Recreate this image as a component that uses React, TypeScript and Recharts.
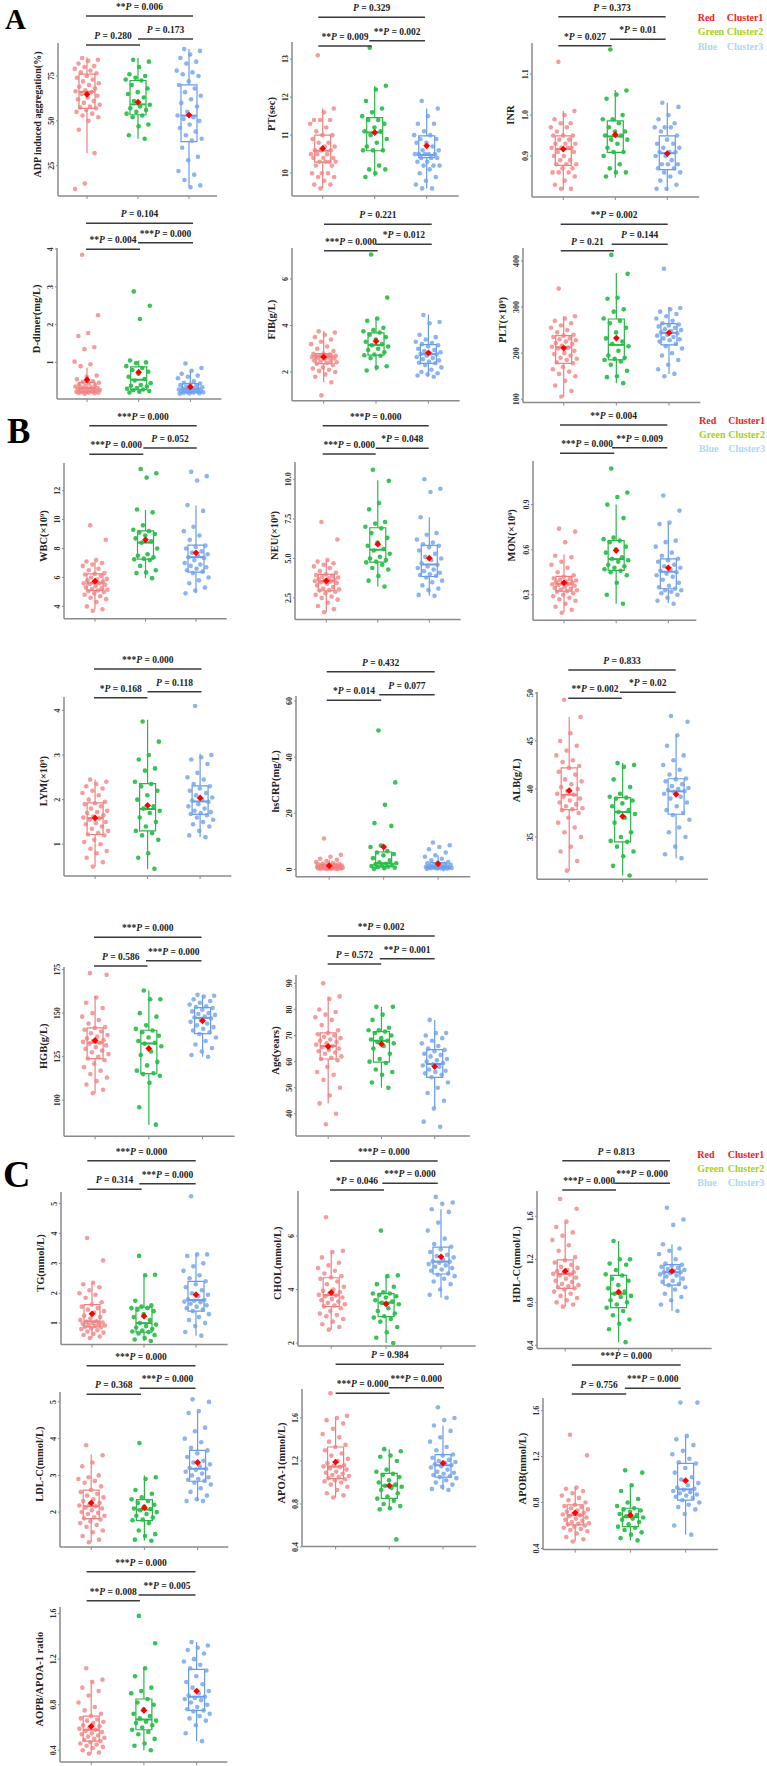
import React from 'react';
import { ScatterChart, Scatter, XAxis, YAxis, ReferenceArea, ReferenceLine } from 'recharts';

const SERIF = '"Liberation Serif","Times New Roman",Times,serif';
const AXIS = '#8a8a8a';
const PT_COL = ['rgba(242,128,128,0.78)', 'rgba(38,190,70,0.92)', 'rgba(108,160,236,0.78)'];
const BOX_COL = ['#ef8080', '#2fb44c', '#6a9be6'];

// ---------- data (stats: [lowWhisker, q1, median, q3, highWhisker, mean]) ----------
const adpRed = [85,84,83.5,82,80.5,80,79,78,77,76.5,75,74,73,72,71,70,69,68,67,66.5,66,65,64,63,62,61,60,59,58,57.5,57,56,55,54,53,52,50,45,32,15,12];
const adpGreen = [84,83,80,76,75,74,73,72.5,70,68,66,65,63,61,59,58,57,56,55,54,53,52,48,47,42,40];
const adpBlue = [90,89,87,85,83,82,78,77,76,75,72,70,68,66,64,62,60,58,55,53,52,51,50,48,46,44,42,40,39,35,30,28,22,20,17,14,13];
const adpStats = [[32,57,66.2,76.1,85.4,64.8],[40,53.4,59.2,72.5,85,60.4],[13.2,38.4,52.9,70,90,53.2]];
const adpP = ['**P = 0.006','P = 0.280','P = 0.173'];
const adpTicks = [25,50,75];

const ptRed = [13.1,11.7,11.6,11.4,11.4,11.4,11.3,11.2,11.1,11.0,11.0,10.9,10.8,10.8,10.7,10.7,10.6,10.6,10.6,10.5,10.5,10.5,10.4,10.4,10.4,10.3,10.3,10.3,10.3,10.2,10.2,10.0,10.0,10.0,9.9,9.9,9.8,9.7,9.7,9.6];
const ptGreen = [13.3,12.3,12.2,11.9,11.7,11.6,11.5,11.4,11.4,11.3,11.2,11.1,11.1,11.0,10.9,10.8,10.7,10.6,10.6,10.6,10.2,10.1,10.1,10.0,9.9];
const ptBlue = [11.9,11.7,11.5,11.3,11.3,11.1,11.0,11.0,10.9,10.9,10.8,10.8,10.7,10.6,10.6,10.5,10.5,10.5,10.5,10.5,10.4,10.4,10.4,10.3,10.3,10.2,10.2,10.2,10.1,10.0,9.9,9.8,9.7,9.6,9.6];
const ptStats = [[9.61,10.29,10.59,11.0,11.71,10.65],[9.91,10.59,11.07,11.46,12.29,11.07],[9.6,10.41,10.48,10.98,11.7,10.72]];
const ptP = ['P = 0.329','**P = 0.009','**P = 0.002'];
const ptTicks = [10,11,12,13];

const inrRed = [1.13,1.01,1.0,0.99,0.98,0.98,0.97,0.97,0.96,0.95,0.95,0.95,0.94,0.94,0.93,0.93,0.93,0.92,0.92,0.92,0.92,0.91,0.91,0.90,0.90,0.89,0.89,0.88,0.88,0.88,0.87,0.87,0.86,0.86,0.86,0.85,0.84,0.83,0.82,0.82];
const inrGreen = [1.16,1.06,1.05,1.04,1.0,0.99,0.99,0.98,0.97,0.96,0.96,0.95,0.95,0.94,0.94,0.93,0.92,0.91,0.91,0.90,0.88,0.87,0.86,0.86,0.85];
const inrBlue = [1.03,1.02,1.0,0.99,0.98,0.97,0.97,0.97,0.96,0.95,0.94,0.93,0.93,0.92,0.92,0.91,0.91,0.91,0.90,0.90,0.89,0.88,0.88,0.88,0.87,0.87,0.86,0.86,0.85,0.84,0.83,0.82,0.82];
const inrStats = [[0.817,0.877,0.917,0.949,1.01,0.917],[0.847,0.909,0.948,0.986,1.061,0.952],[0.815,0.867,0.907,0.949,1.03,0.906]];
const inrP = ['P = 0.373','*P = 0.027','*P = 0.01'];
const inrTicks = [0.9,1.0,1.1];

const ddRed = [3.85,2.25,1.78,1.7,1.4,1.35,1.02,0.95,0.9,0.65,0.62,0.55,0.5,0.48,0.46,0.44,0.42,0.40,0.38,0.36,0.34,0.33,0.32,0.31,0.30,0.29,0.28,0.27,0.26,0.25,0.24,0.23,0.22,0.22,0.21,0.20,0.20,0.19,0.18,0.17];
const ddGreen = [2.88,2.5,2.15,1.05,1.0,0.98,0.9,0.85,0.8,0.75,0.7,0.62,0.56,0.52,0.45,0.4,0.38,0.36,0.32,0.3,0.28,0.26,0.24,0.22,0.2];
const ddBlue = [0.97,0.85,0.78,0.7,0.65,0.62,0.58,0.5,0.46,0.44,0.42,0.40,0.38,0.36,0.34,0.32,0.31,0.30,0.29,0.28,0.27,0.26,0.25,0.24,0.23,0.22,0.21,0.21,0.20,0.19,0.18,0.18,0.17];
const ddStats = [[0.17,0.21,0.32,0.47,0.86,0.54],[0.2,0.28,0.54,0.88,1.05,0.74],[0.17,0.21,0.30,0.44,0.78,0.35]];
const ddP = ['P = 0.104','**P = 0.004','***P = 0.000'];
const ddTicks = [1,2,3,4];

const fibRed = [3.75,3.7,3.6,3.5,3.4,3.3,3.2,3.1,3.0,2.9,2.8,2.78,2.75,2.72,2.7,2.7,2.68,2.67,2.66,2.65,2.64,2.6,2.58,2.55,2.5,2.48,2.45,2.42,2.4,2.36,2.3,2.2,2.15,2.1,2.05,2.0,1.9,1.8,1.56,1.0];
const fibGreen = [7.05,5.2,4.3,4.2,3.9,3.8,3.75,3.7,3.6,3.5,3.4,3.3,3.2,3.15,3.1,3.0,2.95,2.85,2.75,2.72,2.7,2.6,2.25,2.2,2.07];
const fibBlue = [4.45,4.15,4.1,3.6,3.5,3.4,3.3,3.25,3.2,3.15,3.1,3.0,2.95,2.9,2.85,2.8,2.78,2.76,2.7,2.65,2.6,2.55,2.5,2.45,2.4,2.38,2.3,2.2,2.1,2.0,1.95,1.9,1.85,1.8];
const fibStats = [[1.56,2.36,2.66,2.79,3.75,2.65],[2.07,2.73,3.16,3.68,4.32,3.32],[1.81,2.37,2.77,3.18,4.47,2.82]];
const fibP = ['P = 0.221','***P = 0.000','*P = 0.012'];
const fibTicks = [2,4,6];

const pltRed = [340,280,275,270,265,260,255,250,245,240,238,235,232,230,228,225,222,220,216,214,212,210,205,200,198,195,190,188,185,180,178,170,165,160,155,150,140,130,118,106];
const pltGreen = [413,372,320,318,295,290,275,270,265,255,245,232,225,220,215,205,195,190,188,185,182,175,162,150,148,135];
const pltBlue = [383,298,295,290,285,280,275,270,265,262,260,258,255,252,250,248,245,243,240,238,235,232,230,228,225,220,215,210,200,195,185,175,165,155,150];
const pltStats = [[106,178,213,238,280,211],[135,185.5,218,274,374,232.6],[155,218,244,264,300,244]];
const pltP = ['**P = 0.002','P = 0.21','P = 0.144'];
const pltTicks = [100,200,300,400];

const wbcRed = [9.6,8.6,7.2,7.1,7.0,6.9,6.8,6.6,6.5,6.3,6.25,6.2,6.1,6.0,5.9,5.85,5.8,5.7,5.65,5.6,5.6,5.55,5.5,5.4,5.3,5.25,5.2,5.15,5.1,5.05,5.0,4.9,4.8,4.7,4.6,4.5,4.3,4.0,3.8,3.7];
const wbcGreen = [13.5,13.2,12.9,10.7,10.5,9.6,9.3,9.2,9.1,9.0,8.9,8.7,8.5,8.4,8.0,7.6,7.5,7.4,7.3,7.25,7.2,6.8,6.5,6.35,6.3,5.95];
const wbcBlue = [13.3,13.0,12.7,11.0,10.6,9.5,9.2,8.9,8.6,8.2,8.1,8.0,7.8,7.7,7.6,7.5,7.4,7.35,7.2,7.0,6.9,6.8,6.7,6.6,6.5,6.4,6.3,6.0,5.8,5.6,5.3,5.1,4.9];
const wbcStats = [[3.78,5.10,5.63,6.25,7.1,5.74],[5.95,7.26,8.41,9.22,10.67,8.6],[4.9,6.37,7.4,8.23,10.97,7.7]];
const wbcP = ['***P = 0.000','***P = 0.000','P = 0.052'];
const wbcTicks = [4,6,8,10,12];

const neuRed = [7.3,6.2,4.9,4.8,4.7,4.6,4.5,4.4,4.2,4.1,4.0,3.95,3.9,3.85,3.8,3.75,3.7,3.65,3.6,3.58,3.55,3.5,3.45,3.4,3.3,3.2,3.1,3.05,3.0,2.98,2.9,2.8,2.7,2.6,2.5,2.4,2.2,2.0,1.8,1.6];
const neuGreen = [10.6,9.9,8.5,8.1,7.3,7.2,7.0,6.9,6.6,6.3,6.0,5.8,5.6,5.5,5.3,5.1,5.0,4.9,4.8,4.75,4.6,4.4,4.3,3.9,3.6,3.23];
const neuBlue = [10.0,9.4,9.2,7.6,6.6,6.5,6.2,6.0,5.9,5.8,5.7,5.5,5.3,5.1,5.0,4.9,4.7,4.6,4.5,4.4,4.3,4.2,4.1,4.0,3.95,3.9,3.8,3.6,3.5,3.3,3.1,3.0,2.7,2.64];
const neuStats = [[1.61,2.96,3.57,3.99,4.87,3.59],[3.23,4.77,5.55,6.94,9.93,5.9],[2.64,3.86,4.62,5.82,7.6,5.02]];
const neuP = ['***P = 0.000','***P = 0.000','*P = 0.048'];
const neuTicks = [2.5,5,7.5,10];

const monRed = [0.74,0.72,0.65,0.56,0.55,0.52,0.5,0.48,0.45,0.43,0.42,0.41,0.405,0.40,0.395,0.39,0.385,0.38,0.375,0.37,0.37,0.365,0.36,0.35,0.345,0.34,0.335,0.33,0.325,0.32,0.31,0.3,0.29,0.28,0.27,0.26,0.24,0.22,0.2,0.18];
const monGreen = [1.14,0.98,0.95,0.9,0.81,0.68,0.67,0.66,0.65,0.62,0.6,0.58,0.55,0.54,0.53,0.52,0.5,0.49,0.48,0.47,0.46,0.45,0.43,0.38,0.3,0.24];
const monBlue = [0.96,0.86,0.78,0.77,0.66,0.65,0.62,0.58,0.56,0.54,0.53,0.52,0.5,0.49,0.48,0.47,0.46,0.45,0.44,0.43,0.42,0.40,0.38,0.36,0.35,0.34,0.33,0.33,0.32,0.31,0.3,0.28,0.26,0.24];
const monStats = [[0.185,0.324,0.373,0.422,0.568,0.38],[0.24,0.462,0.537,0.66,0.90,0.594],[0.245,0.34,0.453,0.539,0.776,0.479]];
const monP = ['**P = 0.004','***P = 0.000','**P = 0.009'];
const monTicks = [0.3,0.6,0.9];

const lymRed = [2.45,2.4,2.35,2.3,2.25,2.2,2.15,2.1,2.0,1.95,1.92,1.9,1.85,1.8,1.75,1.72,1.7,1.65,1.62,1.6,1.58,1.55,1.5,1.48,1.45,1.4,1.35,1.3,1.25,1.22,1.2,1.1,1.05,1.0,0.9,0.85,0.8,0.7,0.6,0.5];
const lymGreen = [3.75,3.3,3.0,2.9,2.7,2.65,2.4,2.35,2.3,2.2,2.1,2.0,1.85,1.8,1.75,1.7,1.6,1.5,1.4,1.3,1.25,1.2,1.1,0.8,0.7,0.45];
const lymBlue = [4.1,3.0,2.95,2.9,2.8,2.6,2.5,2.45,2.35,2.3,2.25,2.2,2.15,2.1,2.05,2.0,1.98,1.95,1.9,1.85,1.8,1.75,1.72,1.7,1.68,1.65,1.6,1.55,1.5,1.45,1.4,1.3,1.2,1.16];
const lymStats = [[0.5,1.22,1.59,1.93,2.45,1.59],[0.45,1.30,1.79,2.36,3.79,1.87],[1.16,1.67,1.96,2.31,3.03,2.04]];
const lymP = ['***P = 0.000','*P = 0.168','P = 0.118'];
const lymTicks = [1,2,3,4];

const crpRed = [11,5.2,4.5,3.8,3.4,3.0,2.6,2.3,2.0,1.9,1.8,1.7,1.6,1.5,1.4,1.3,1.2,1.1,1.05,1.0,0.95,0.9,0.85,0.8,0.75,0.7,0.65,0.6,0.55,0.5,0.48,0.45,0.4,0.35,0.3,0.3,0.25,0.2,0.15,0.1];
const crpGreen = [49.5,31,23,16.5,15.5,8.5,8.0,6.5,6.0,5.5,5.0,4.0,3.2,2.5,2.2,2.0,1.8,1.6,1.4,1.2,1.0,0.8,0.6,0.4,0.2];
const crpBlue = [9.6,8.6,8.0,7.2,6.0,5.0,4.5,3.8,3.2,2.6,2.4,2.2,2.0,1.8,1.6,1.4,1.2,1.1,1.0,0.9,0.85,0.8,0.75,0.7,0.65,0.6,0.55,0.5,0.45,0.4,0.35,0.3,0.2,0.1];
const crpStats = [[0.1,0.5,0.9,1.8,3.4,1.3],[0.2,1.0,2.2,6.2,8.5,8.0],[0.1,0.5,1.0,2.4,5.0,2.0]];
const crpP = ['P = 0.432','*P = 0.014','P = 0.077'];
const crpTicks = [0,20,40,60];

const albRed = [49.3,47.5,45.8,45,44.5,44,43.5,43,42.8,42.4,42.2,41.8,41.5,41,40.8,40.5,40.2,40,39.8,39.5,39.4,39.2,39,38.8,38.6,38.4,38.2,38,37.9,37.8,37.5,37,36.5,36,35.5,35,34,33.5,32.5,31.5];
const albGreen = [42.7,42.5,42.3,41,40.2,39.5,39.2,39.1,39,38.8,38.5,38.2,37.8,37.6,37.4,37,36.5,35.5,35,34.6,34.5,34,33.5,33,32,31];
const albBlue = [47.6,47,45.6,44.5,43.5,43,42.5,42,41.5,41.1,41,40.8,40.5,40.3,40.1,40,39.9,39.8,39.7,39.5,39.2,39,38.6,38.2,37.8,37.5,37.3,36.8,36,35.5,35,34,33.2,32.8];
const albStats = [[31.5,37.86,39.4,42.2,47.5,39.83],[31,34.5,37.6,39.1,42.7,37.16],[32.8,37.37,39.76,41.07,45.6,39.45]];
const albP = ['P = 0.833','**P = 0.002','*P = 0.02'];
const albTicks = [35,40,45,50];

const hgbRed = [173,172,159,156,153,150,148,146,144,142,141.5,140.5,139.5,138.5,137.5,136.5,135.5,134.5,134,133.5,133,132.5,131.5,130.5,129.5,128.5,127.5,126.5,125,124,123,121,119,117,115,113,111,109,106,104];
const hgbGreen = [163,158,158,150,148,143,141,140,139,137,136,134,133,132.5,131,128,126,122,120,117,115.5,115,114,110,96,86];
const hgbBlue = [160.5,160,159.5,158,157,156,155,154,153.5,153,152,151,150,149.5,149,148,147.5,147,146,145,144,143,142,141,140,139,138,136,134,132,130,128,126,125];
const hgbStats = [[104,123.9,133.1,141.5,159.9,134.3],[86,115.3,132.6,140.2,163,129.7],[125,138.3,147.3,153.2,160.5,145.6]];
const hgbP = ['***P = 0.000','P = 0.586','***P = 0.000'];
const hgbTicks = [100,125,150,175];

const ageRed = [90,85,84,80,79,78,77,76,74,72,71,70.5,70,69.5,69,68.5,68,67.5,67,66.5,66,65.5,65,64.5,64,63.5,63,62,61.5,61,60.5,58,56,55,53,50,47,44,40,36];
const ageGreen = [81,81,78,76,73,72,72,71.5,71,70,69,68.5,68,67.5,67,66,65,63,61,60,59.5,57,56,55,52,50];
const ageBlue = [76,71,71,70,69,68,67,66,65,64.5,64,63,62.5,62,61,60.5,60,59.5,59,58.5,58,57,56.5,56,55.5,55,54,52,50,48,45,42,37,35];
const ageStats = [[44,61,66,71,85,65.8],[50,59.8,68,71.5,81,66.8],[42,54,59.1,64.6,76,58.1]];
const ageP = ['**P = 0.002','P = 0.572','**P = 0.001'];
const ageTicks = [40,50,60,70,80,90];

const tgRed = [3.85,3.1,2.35,2.3,2.2,2.1,2.0,1.95,1.85,1.7,1.62,1.55,1.5,1.45,1.4,1.35,1.25,1.2,1.15,1.1,1.06,1.04,1.02,1.0,0.98,0.96,0.94,0.92,0.9,0.88,0.86,0.82,0.8,0.76,0.72,0.68,0.64,0.6,0.55,0.5];
const tgGreen = [3.25,2.62,2.6,1.75,1.6,1.55,1.5,1.5,1.45,1.4,1.3,1.2,1.1,1.0,0.95,0.9,0.85,0.8,0.75,0.72,0.7,0.65,0.6,0.5,0.45,0.4];
const tgBlue = [5.25,3.3,3.3,3.25,3.0,2.9,2.75,2.6,2.5,2.4,2.3,2.2,2.1,2.0,1.95,1.9,1.8,1.77,1.75,1.72,1.7,1.65,1.6,1.55,1.5,1.45,1.4,1.3,1.2,1.1,1.0,0.9,0.7,0.58];
const tgStats = [[0.5,0.87,1.06,1.62,2.37,1.31],[0.4,0.70,1.0,1.53,2.62,1.23],[0.58,1.40,1.77,2.40,3.31,1.95]];
const tgP = ['***P = 0.000','P = 0.314','***P = 0.000'];
const tgTicks = [1,2,3,4,5];

const cholRed = [6.7,5.45,5.4,5.2,5.0,4.9,4.8,4.7,4.6,4.5,4.45,4.4,4.3,4.2,4.1,4.0,3.95,3.9,3.85,3.8,3.78,3.75,3.7,3.65,3.6,3.55,3.5,3.45,3.4,3.37,3.3,3.2,3.1,3.05,3.0,2.9,2.8,2.7,2.6,2.5];
const cholGreen = [6.2,4.53,4.5,4.2,4.1,3.9,3.85,3.85,3.8,3.75,3.7,3.6,3.55,3.5,3.45,3.3,3.2,3.1,3.0,2.95,2.9,2.8,2.6,2.4,2.2,2.0];
const cholBlue = [7.46,7.25,7.2,7.0,6.9,6.5,6.2,5.9,5.7,5.6,5.5,5.4,5.3,5.25,5.2,5.1,5.05,5.04,5.0,4.95,4.9,4.85,4.8,4.75,4.7,4.6,4.55,4.5,4.4,4.3,4.2,4.0,3.8,3.69];
const cholStats = [[2.5,3.36,3.79,4.44,5.45,3.89],[2.0,2.99,3.51,3.85,4.53,3.46],[3.69,4.58,5.04,5.58,7.0,5.22]];
const cholP = ['***P = 0.000','*P = 0.046','***P = 0.000'];
const cholTicks = [2,4,6];

const hdlRed = [1.76,1.67,1.55,1.5,1.45,1.42,1.38,1.33,1.28,1.22,1.19,1.17,1.15,1.13,1.12,1.1,1.09,1.08,1.07,1.065,1.06,1.05,1.03,1.02,1.0,0.99,0.97,0.96,0.95,0.94,0.93,0.92,0.9,0.88,0.86,0.84,0.82,0.8,0.78,0.76];
const hdlGreen = [1.37,1.2,1.2,1.16,1.15,1.1,1.06,1.05,1.02,1.0,0.96,0.93,0.9,0.88,0.86,0.85,0.82,0.8,0.78,0.75,0.72,0.68,0.64,0.6,0.55,0.43];
const hdlBlue = [1.68,1.57,1.52,1.34,1.3,1.28,1.25,1.2,1.16,1.15,1.14,1.13,1.12,1.11,1.1,1.09,1.08,1.08,1.07,1.06,1.05,1.04,1.02,1.0,0.99,0.97,0.96,0.94,0.92,0.88,0.85,0.82,0.78,0.72];
const hdlStats = [[0.76,0.93,1.063,1.194,1.55,1.09],[0.43,0.75,0.88,1.05,1.37,0.896],[0.72,0.96,1.08,1.15,1.34,1.09]];
const hdlP = ['P = 0.813','***P = 0.000','***P = 0.000'];
const hdlTicks = [0.4,0.8,1.2,1.6];

const ldlRed = [3.82,3.55,3.35,3.25,3.0,2.95,2.9,2.85,2.8,2.7,2.6,2.55,2.5,2.45,2.4,2.35,2.3,2.25,2.2,2.18,2.16,2.12,2.1,2.05,2.0,1.98,1.95,1.9,1.86,1.83,1.8,1.75,1.7,1.65,1.6,1.5,1.45,1.35,1.25,1.18];
const ldlGreen = [3.88,2.95,2.9,2.6,2.5,2.4,2.35,2.3,2.25,2.2,2.15,2.1,2.08,2.05,2.0,1.95,1.9,1.85,1.8,1.78,1.7,1.5,1.4,1.35,1.25,1.22];
const ldlBlue = [5.07,5.0,4.75,4.7,4.3,4.2,4.0,3.9,3.75,3.68,3.6,3.5,3.4,3.35,3.3,3.25,3.2,3.18,3.15,3.1,3.05,3.0,2.95,2.9,2.88,2.85,2.8,2.75,2.65,2.55,2.45,2.35,2.3,2.3];
const ldlStats = [[1.18,1.82,2.16,2.60,3.57,2.25],[1.23,1.77,2.07,2.34,3.0,2.12],[2.30,2.84,3.18,3.68,4.75,3.35]];
const ldlP = ['***P = 0.000','P = 0.368','***P = 0.000'];
const ldlTicks = [2,3,4,5];

const apoaRed = [1.83,1.62,1.6,1.58,1.55,1.5,1.45,1.42,1.38,1.35,1.33,1.3,1.27,1.25,1.22,1.2,1.18,1.16,1.155,1.15,1.145,1.13,1.12,1.1,1.09,1.08,1.07,1.06,1.05,1.04,1.03,1.02,1.01,1.0,0.98,0.96,0.93,0.9,0.88,0.86];
const apoaGreen = [1.31,1.29,1.25,1.24,1.2,1.12,1.1,1.08,1.07,1.05,1.02,1.0,0.98,0.97,0.96,0.95,0.93,0.9,0.87,0.85,0.83,0.8,0.78,0.76,0.75,0.47];
const apoaBlue = [1.7,1.6,1.58,1.53,1.48,1.42,1.38,1.33,1.3,1.26,1.25,1.23,1.21,1.2,1.19,1.18,1.17,1.16,1.15,1.14,1.12,1.1,1.09,1.08,1.07,1.06,1.05,1.04,1.02,1.0,0.98,0.96,0.94,0.93];
const apoaStats = [[0.86,1.035,1.148,1.33,1.6,1.19],[0.745,0.852,0.97,1.085,1.31,0.97],[0.93,1.05,1.16,1.26,1.53,1.18]];
const apoaP = ['P = 0.984','***P = 0.000','***P = 0.000'];
const apoaTicks = [0.4,0.8,1.2,1.6];

const apobRed = [1.39,1.21,0.93,0.92,0.9,0.88,0.86,0.84,0.82,0.8,0.78,0.77,0.76,0.75,0.74,0.73,0.72,0.71,0.7,0.695,0.69,0.68,0.67,0.66,0.65,0.64,0.63,0.62,0.615,0.61,0.6,0.59,0.58,0.57,0.56,0.55,0.53,0.5,0.48,0.46];
const apobGreen = [1.08,1.06,0.95,0.9,0.83,0.8,0.77,0.75,0.74,0.73,0.72,0.7,0.69,0.68,0.67,0.66,0.65,0.63,0.61,0.59,0.58,0.56,0.54,0.52,0.49,0.47];
const apobBlue = [1.67,1.67,1.38,1.35,1.3,1.25,1.22,1.18,1.15,1.14,1.1,1.06,1.02,1.0,0.97,0.95,0.93,0.92,0.91,0.9,0.89,0.88,0.87,0.86,0.85,0.84,0.82,0.8,0.78,0.76,0.74,0.7,0.6,0.52];
const apobStats = [[0.46,0.605,0.69,0.78,0.93,0.71],[0.47,0.59,0.673,0.75,0.95,0.69],[0.52,0.82,0.915,1.14,1.38,0.99]];
const apobP = ['***P = 0.000','P = 0.756','***P = 0.000'];
const apobTicks = [0.4,0.8,1.2,1.6];

const ratioRed = [1.12,1.02,1.0,0.95,0.92,0.88,0.82,0.78,0.75,0.72,0.7,0.68,0.67,0.66,0.65,0.64,0.62,0.61,0.6,0.59,0.58,0.57,0.56,0.55,0.54,0.53,0.52,0.51,0.5,0.49,0.48,0.47,0.46,0.45,0.44,0.43,0.42,0.4,0.38,0.37];
const ratioGreen = [1.58,1.34,1.12,1.05,0.95,0.92,0.9,0.85,0.82,0.8,0.76,0.72,0.7,0.68,0.66,0.65,0.64,0.62,0.6,0.58,0.56,0.54,0.5,0.46,0.44,0.4];
const ratioBlue = [1.35,1.32,1.3,1.28,1.25,1.2,1.18,1.15,1.12,1.1,1.05,1.0,0.98,0.95,0.92,0.9,0.88,0.87,0.86,0.85,0.84,0.82,0.8,0.78,0.76,0.75,0.74,0.72,0.7,0.68,0.66,0.62,0.55,0.48];
const ratioStats = [[0.37,0.48,0.58,0.70,1.02,0.61],[0.40,0.58,0.67,0.85,1.12,0.75],[0.48,0.75,0.87,1.11,1.35,0.92]];
const ratioP = ['***P = 0.000','**P = 0.008','**P = 0.005'];
const ratioTicks = [0.4,0.8,1.2,1.6];

const LEGEND_NAMES = ['Red', 'Green', 'Blue'];
const LEGEND_CLUSTERS = ['Cluster1', 'Cluster2', 'Cluster3'];
const LEGEND_COLORS = ['#ee1c25', '#a6d11a', '#a9d9f2'];

// ---------- layout (page pixel positions) ----------
type Lay = { label: string; axis: number; right: number; top: number; bottom: number; g: number[]; y: number[]; dec: number; by: number[]; bx: number[]; fs?: number };

const PANELS: { L: Lay; groups: number[][]; stats: number[][]; p: string[]; ticks: number[] }[] = [
  { L: { label: 'ADP induced aggregation(%)', axis: 58, right: 217, top: 43, bottom: 196, g: [87, 138, 189], y: [8.1, 93.4], dec: 0, by: [16, 45, 39], bx: [86, 140, 138, 193], fs: 10 }, groups: [adpRed, adpGreen, adpBlue], stats: adpStats, p: adpP, ticks: adpTicks },
  { L: { label: 'PT(sec)', axis: 292.3, right: 459, top: 42, bottom: 196, g: [323, 375, 427], y: [9.4, 13.45], dec: 0, by: [17.3, 46, 40.7], bx: [318.3, 371.7, 369.3, 425] }, groups: [ptRed, ptGreen, ptBlue], stats: ptStats, p: ptP, ticks: ptTicks },
  { L: { label: 'INR', axis: 531.7, right: 699, top: 43, bottom: 197, g: [563, 615, 667], y: [0.8, 1.176], dec: 1, by: [16.7, 45.7, 39.3], bx: [558.3, 611.7, 610, 665.7] }, groups: [inrRed, inrGreen, inrBlue], stats: inrStats, p: inrP, ticks: inrTicks },
  { L: { label: 'D-dimer(mg/L)', axis: 57.3, right: 221.7, top: 248.3, bottom: 399.3, g: [87.3, 139, 190.7], y: [0.03, 4.03], dec: 0, by: [223.3, 249.3, 242.7], bx: [86, 140, 138, 193] }, groups: [ddRed, ddGreen, ddBlue], stats: ddStats, p: ddP, ticks: ddTicks },
  { L: { label: 'FIB(g/L)', axis: 292.3, right: 460, top: 248.3, bottom: 401, g: [324, 376, 428.7], y: [0.77, 7.33], dec: 0, by: [224.3, 250.7, 244.3], bx: [324, 377.7, 376, 431.7] }, groups: [fibRed, fibGreen, fibBlue], stats: fibStats, p: fibP, ticks: fibTicks },
  { L: { label: 'PLT(×10⁹)', axis: 523.3, right: 700.7, top: 247.7, bottom: 402.3, g: [564, 616.7, 669.3], y: [92.8, 428], dec: 0, by: [224.3, 250.7, 244.3], bx: [560.7, 614, 611.7, 667.7] }, groups: [pltRed, pltGreen, pltBlue], stats: pltStats, p: pltP, ticks: pltTicks },
  { L: { label: 'WBC(×10⁹)', axis: 64, right: 226.7, top: 463.3, bottom: 619, g: [95, 145.7, 196], y: [3.15, 13.91], dec: 0, by: [425.7, 454.3, 448], bx: [89.3, 143.3, 143.3, 196.7] }, groups: [wbcRed, wbcGreen, wbcBlue], stats: wbcStats, p: wbcP, ticks: wbcTicks },
  { L: { label: 'NEU(×10⁹)', axis: 295, right: 460.7, top: 461.7, bottom: 619.3, g: [326.3, 376.7, 429.3], y: [1.14, 11.09], dec: 1, by: [425.7, 454, 448.3], bx: [322.7, 375.7, 375.7, 428.7] }, groups: [neuRed, neuGreen, neuBlue], stats: neuStats, p: neuP, ticks: neuTicks },
  { L: { label: 'MON(×10⁹)', axis: 532.7, right: 696, top: 460.7, bottom: 620, g: [563.7, 615.7, 668], y: [0.13, 1.19], dec: 1, by: [425, 453.3, 447.7], bx: [560, 614.3, 612, 667.3] }, groups: [monRed, monGreen, monBlue], stats: monStats, p: monP, ticks: monTicks },
  { L: { label: 'LYM(×10⁹)', axis: 64.4, right: 231.7, top: 696.7, bottom: 875.7, g: [95.5, 147.5, 200.5], y: [0.29, 4.3], dec: 0, by: [669, 697.7, 691.7], bx: [94, 147.5, 147.5, 201.5] }, groups: [lymRed, lymGreen, lymBlue], stats: lymStats, p: lymP, ticks: lymTicks },
  { L: { label: 'hsCRP(mg/L)', axis: 296, right: 470.3, top: 696, bottom: 876.7, g: [329.2, 384.2, 438.1], y: [-2.6, 61.8], dec: 0, by: [671.7, 700.3, 694.7], bx: [326.7, 381.2, 379.2, 434.7] }, groups: [crpRed, crpGreen, crpBlue], stats: crpStats, p: crpP, ticks: crpTicks },
  { L: { label: 'ALB(g/L)', axis: 537.1, right: 708, top: 691.7, bottom: 879, g: [569.3, 622.8, 676.2], y: [30.6, 50.1], dec: 0, by: [670, 698.3, 692.3], bx: [568.3, 621.8, 619.8, 675.7] }, groups: [albRed, albGreen, albBlue], stats: albStats, p: albP, ticks: albTicks },
  { L: { label: 'HGB(g/L)', axis: 64.4, right: 235, top: 966.7, bottom: 1136, g: [95.5, 148.5, 203], y: [79.3, 176.5], dec: 0, by: [937.3, 966, 960.7], bx: [94, 147.5, 146, 201.5] }, groups: [hgbRed, hgbGreen, hgbBlue], stats: hgbStats, p: hgbP, ticks: hgbTicks },
  { L: { label: 'Age(years)', axis: 296, right: 470, top: 975, bottom: 1136, g: [328.2, 381.2, 434.7], y: [31.5, 93.2], dec: 0, by: [936, 964, 958.7], bx: [327.7, 381.2, 379.7, 434.7] }, groups: [ageRed, ageGreen, ageBlue], stats: ageStats, p: ageP, ticks: ageTicks },
  { L: { label: 'TG(mmol/L)', axis: 61, right: 227.7, top: 1191.7, bottom: 1344.3, g: [92, 144.5, 196], y: [0.28, 5.39], dec: 0, by: [1160.7, 1189.3, 1183.7], bx: [87.3, 141.7, 139.3, 195.7] }, groups: [tgRed, tgGreen, tgBlue], stats: tgStats, p: tgP, ticks: tgTicks },
  { L: { label: 'CHOL(mmol/L)', axis: 298.3, right: 476, top: 1190.7, bottom: 1345.7, g: [331.5, 386, 441.3], y: [1.89, 7.68], dec: 0, by: [1161, 1190, 1183.3], bx: [330, 384, 382.3, 437.7] }, groups: [cholRed, cholGreen, cholBlue], stats: cholStats, p: cholP, ticks: cholTicks },
  { L: { label: 'HDL-C(mmol/L)', axis: 537.3, right: 712, top: 1190.7, bottom: 1348.3, g: [565.5, 618.3, 672.3], y: [0.37, 1.835], dec: 1, by: [1160.7, 1190, 1183.3], bx: [562.3, 616, 614.3, 670] }, groups: [hdlRed, hdlGreen, hdlBlue], stats: hdlStats, p: hdlP, ticks: hdlTicks },
  { L: { label: 'LDL-C(mmol/L)', axis: 60.4, right: 228.7, top: 1391.7, bottom: 1546.7, g: [91.6, 144.6, 198], y: [1.05, 5.27], dec: 0, by: [1365.7, 1394.3, 1388.3], bx: [86.6, 141, 139.6, 195.5] }, groups: [ldlRed, ldlGreen, ldlBlue], stats: ldlStats, p: ldlP, ticks: ldlTicks },
  { L: { label: 'APOA-1(mmol/L)', axis: 302, right: 476.2, top: 1389.3, bottom: 1546.7, g: [335.6, 389.6, 443], y: [0.405, 1.87], dec: 1, by: [1364.3, 1393.3, 1387.7], bx: [335.6, 389.6, 388.6, 444] }, groups: [apoaRed, apoaGreen, apoaBlue], stats: apoaStats, p: apoaP, ticks: apoaTicks },
  { L: { label: 'APOB(mmol/L)', axis: 543, right: 717.8, top: 1397.7, bottom: 1549.3, g: [575.2, 630.2, 685.6], y: [0.39, 1.71], dec: 1, by: [1365, 1394, 1388.3], bx: [571.8, 626.2, 624.8, 680.7] }, groups: [apobRed, apobGreen, apobBlue], stats: apobStats, p: apobP, ticks: apobTicks },
  { L: { label: 'AOPB/APOA-1 ratio', axis: 60.4, right: 227.7, top: 1606.7, bottom: 1761.7, g: [91.6, 143.6, 197], y: [0.297, 1.658], dec: 1, by: [1571.7, 1600.7, 1595], bx: [86.6, 140, 138.6, 195.5] }, groups: [ratioRed, ratioGreen, ratioBlue], stats: ratioStats, p: ratioP, ticks: ratioTicks },
];

const LEGENDS = [
  { x1: 697.7, x2: 726.7, ys: [17, 31.8, 46] },
  { x1: 699, x2: 728.3, ys: [420, 434.7, 448.7] },
  { x1: 697.3, x2: 727.7, ys: [1154.3, 1168.3, 1182.7] },
];

const LETTERS = [
  { t: 'A', x: 5, y: 29, fs: 29 },
  { t: 'B', x: 7, y: 443, fs: 35 },
  { t: 'C', x: 3, y: 1187, fs: 38 },
];

const jit = (i: number) => ((((i * 0.618034 + 0.31) % 1) - 0.5) * 0.5);

const makeTick = (dec: number) => (props: any) => {
  const { x, y, payload } = props;
  const cx = x - 3;
  return (
    <text x={cx} y={y} transform={`rotate(-90 ${cx} ${y})`} textAnchor="middle" dy="0.35em"
      fontSize={8} fontWeight="bold" fontFamily={SERIF} fill="#333">
      {Number(payload.value).toFixed(dec)}
    </text>
  );
};

const emptyTick = () => <g />;

const dotShape = (gi: number) => (props: any) => {
  const { cx, cy } = props;
  if (cx == null || cy == null) return <g />;
  return <circle cx={cx} cy={cy} r={2.3} fill={PT_COL[gi]} />;
};

const diamond = (props: any) => {
  const { cx, cy } = props;
  if (cx == null || cy == null) return <g />;
  const r = 3.4;
  return <polygon points={`${cx},${cy - r} ${cx + r},${cy} ${cx},${cy + r} ${cx - r},${cy}`} fill="#ff0000" />;
};

function Panel({ L, groups, stats, ticks }: { L: Lay; groups: number[][]; stats: number[][]; ticks: number[] }) {
  const YW = 30;
  const XH = 6;
  const MT = 10;
  const s = (L.g[2] - L.g[0]) / 2;
  const xMin = 1 - (L.g[0] - L.axis) / s;
  const xMax = 3 + (L.right - L.g[2]) / s;
  const w = YW + (L.right - L.axis) + 2;
  const h = L.bottom - L.top + XH + MT;
  const hw = 8 / s;
  const pts = groups.map((vals, gi) => vals.map((v, i) => ({ x: gi + 1 + jit(i), y: v })));
  const means = stats.map((st, gi) => ({ x: gi + 1, y: st[5] }));
  return (
    <div style={{ position: 'absolute', left: L.axis - YW, top: L.top - MT }}>
      <ScatterChart width={w} height={h} margin={{ top: MT, right: 2, bottom: 0, left: 0 }}>
        <XAxis type="number" dataKey="x" domain={[xMin, xMax]} ticks={[1, 2, 3]} allowDataOverflow height={XH}
          tickSize={3} tick={emptyTick} axisLine={{ stroke: AXIS, strokeWidth: 1.5 }} tickLine={{ stroke: AXIS }} />
        <YAxis type="number" dataKey="y" domain={L.y} ticks={ticks} allowDataOverflow width={YW} interval={0}
          tickSize={2} tick={makeTick(L.dec)} axisLine={{ stroke: AXIS, strokeWidth: 1.5 }} tickLine={{ stroke: AXIS }} />
        {stats.map((st, gi) => (
          <ReferenceArea key={'b' + gi} x1={gi + 1 - hw} x2={gi + 1 + hw} y1={st[1]} y2={st[3]}
            fill="#ffffff" fillOpacity={0} stroke={BOX_COL[gi]} strokeWidth={1.2} />
        ))}
        {stats.map((st, gi) => (
          <ReferenceLine key={'wl' + gi} segment={[{ x: gi + 1, y: st[0] }, { x: gi + 1, y: st[1] }]} stroke={BOX_COL[gi]} strokeWidth={1.2} />
        ))}
        {stats.map((st, gi) => (
          <ReferenceLine key={'wh' + gi} segment={[{ x: gi + 1, y: st[3] }, { x: gi + 1, y: st[4] }]} stroke={BOX_COL[gi]} strokeWidth={1.2} />
        ))}
        {stats.map((st, gi) => (
          <ReferenceLine key={'m' + gi} segment={[{ x: gi + 1 - hw, y: st[2] }, { x: gi + 1 + hw, y: st[2] }]} stroke={BOX_COL[gi]} strokeWidth={2} />
        ))}
        {pts.map((d, gi) => (
          <Scatter key={'s' + gi} data={d} shape={dotShape(gi)} isAnimationActive={false} />
        ))}
        <Scatter data={means} shape={diamond} isAnimationActive={false} />
      </ScatterChart>
    </div>
  );
}

function PText({ x, y, s }: { x: number; y: number; s: string }) {
  const i = s.indexOf('P');
  const pre = s.slice(0, i);
  const post = s.slice(i + 1);
  return (
    <text x={x} y={y} textAnchor="middle" fontSize={9.5} fontWeight="bold" fontFamily={SERIF} fill="#222">
      {pre}<tspan fontStyle="italic">P</tspan>{post}
    </text>
  );
}

export default function App() {
  return (
    <div style={{ position: 'absolute', left: 0, top: 0, width: 767, height: 1766, overflow: 'hidden', background: '#fff' }}>
      {PANELS.map((P, i) => (
        <Panel key={i} L={P.L} groups={P.groups} stats={P.stats} ticks={P.ticks} />
      ))}
      <svg width={767} height={1766} style={{ position: 'absolute', left: 0, top: 0, pointerEvents: 'none' }}>
        {LETTERS.map((l) => (
          <text key={l.t} x={l.x} y={l.y} fontSize={l.fs} fontWeight="bold" fontFamily={SERIF} fill="#000">{l.t}</text>
        ))}
        {LEGENDS.map((lg, li) => (
          <g key={'lg' + li}>
            {lg.ys.map((yy, k) => (
              <g key={k}>
                <text x={lg.x1} y={yy + 3.5} fontSize={10} fontWeight="bold" fontFamily={SERIF} fill={LEGEND_COLORS[k]}>{LEGEND_NAMES[k]}</text>
                <text x={lg.x2} y={yy + 3.5} fontSize={10} fontWeight="bold" fontFamily={SERIF} fill={LEGEND_COLORS[k]}>{LEGEND_CLUSTERS[k]}</text>
              </g>
            ))}
          </g>
        ))}
        {PANELS.map((P, i) => {
          const L = P.L;
          const cy = (L.top + L.bottom) / 2 - 5;
          const lx = L.axis - 21;
          return (
            <g key={'o' + i}>
              <text transform={`translate(${lx} ${cy}) rotate(-90)`} textAnchor="middle" dy="0.35em"
                fontSize={L.fs || 10.5} fontWeight="bold" fontFamily={SERIF} fill="#222">{L.label}</text>
              <line x1={L.bx[0]} x2={L.bx[3]} y1={L.by[0]} y2={L.by[0]} stroke="#3a3a3a" strokeWidth={1.5} />
              <line x1={L.bx[0]} x2={L.bx[1]} y1={L.by[1]} y2={L.by[1]} stroke="#3a3a3a" strokeWidth={1.5} />
              <line x1={L.bx[2]} x2={L.bx[3]} y1={L.by[2]} y2={L.by[2]} stroke="#3a3a3a" strokeWidth={1.5} />
              <PText x={(L.bx[0] + L.bx[3]) / 2} y={L.by[0] - 6} s={P.p[0]} />
              <PText x={(L.bx[0] + L.bx[1]) / 2} y={L.by[1] - 6} s={P.p[1]} />
              <PText x={(L.bx[2] + L.bx[3]) / 2} y={L.by[2] - 6} s={P.p[2]} />
            </g>
          );
        })}
      </svg>
    </div>
  );
}
